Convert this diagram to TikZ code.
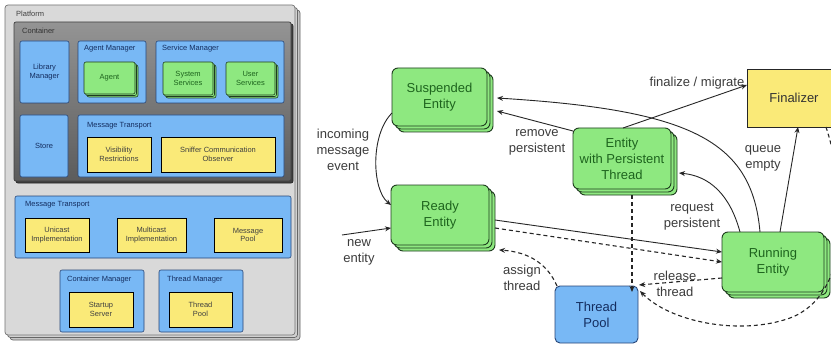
\documentclass[tikz,border=0pt]{standalone}
\usepackage{fontspec}
\setmainfont{Liberation Sans}
\usetikzlibrary{shadows,arrows.meta,calc}
\definecolor{gfill}{RGB}{142,232,128}
\definecolor{gborder}{RGB}{30,60,30}
\definecolor{gtext}{RGB}{30,100,30}
\definecolor{yfill}{RGB}{250,234,120}
\definecolor{bfill}{RGB}{120,184,245}
\definecolor{bborder}{RGB}{40,70,120}
\definecolor{btext}{RGB}{20,45,95}
\definecolor{lbl}{RGB}{60,60,60}
\tikzset{
  sfont/.style={font=\fontsize{7.5}{8.5}\selectfont},
  bfont/.style={font=\fontsize{13}{16}\selectfont},
  lblue/.style={draw=bborder, fill=bfill, rounded corners=2pt, line width=0.6pt, inner sep=0pt, outer sep=0pt, align=center, text=btext, sfont},
  lgreen/.style={draw=gborder, fill=gfill, rounded corners=2pt, line width=0.6pt, inner sep=0pt, outer sep=0pt, align=center, text=gtext, sfont,
     general shadow={shadow xshift=3pt,shadow yshift=-3pt,draw=gborder,fill=gfill},
     general shadow={shadow xshift=1.5pt,shadow yshift=-1.5pt,draw=gborder,fill=gfill}},
  lyellow/.style={draw=black, fill=yfill, line width=0.8pt, inner sep=0pt, outer sep=0pt, align=center, text=black!75, sfont},
  ltitle/.style={anchor=west, inner sep=0pt, sfont, text=btext},
  gbig/.style={draw=gborder, fill=gfill, rounded corners=6pt, line width=0.9pt, inner sep=0pt, outer sep=0pt, align=center, text=gtext, bfont,
     general shadow={shadow xshift=6pt,shadow yshift=-6pt,draw=gborder,fill=gfill},
     general shadow={shadow xshift=3pt,shadow yshift=-3pt,draw=gborder,fill=gfill}},
  lab/.style={align=center, text=lbl, bfont, inner sep=1pt},
  arr/.style={-{Stealth[length=6pt,width=5pt]}, line width=0.9pt, draw=black!85},
  darr/.style={-{Stealth[length=6pt,width=5pt]}, line width=1.1pt, draw=black!85, dash pattern=on 4pt off 3pt},
}
\begin{document}
\begin{tikzpicture}[x=1pt,y=-1pt]
\useasboundingbox (0,0) rectangle (831,345);
\fill[white] (0,0) rectangle (831,345);

% ---------------- left panel ----------------
\node[draw=black!55, fill=black!15, rounded corners=3pt, line width=0.7pt, minimum width=290pt, minimum height=330pt, inner sep=0pt, outer sep=0pt,
  general shadow={shadow xshift=5pt, shadow yshift=-5pt, draw=black!60, fill=black!22},
  general shadow={shadow xshift=2.5pt, shadow yshift=-2.5pt, draw=black!60, fill=black!18}] (plat) at (150,170) {};
\node[ltitle, text=black!75] (platl) at (16,14) {Platform};

\node[draw=black!75, top color=black!42, bottom color=black!64, rounded corners=2pt, line width=0.7pt, minimum width=277pt, minimum height=159pt, inner sep=0pt, outer sep=0pt,
  general shadow={shadow xshift=2pt, shadow yshift=-2pt, draw=black!85, fill=black!75}] (cont) at (152.5,101.5) {};
\node[ltitle, text=black!80] (contl) at (22,31) {Container};

\node[lblue, minimum width=49pt, minimum height=62pt] (libm) at (44.5,72) {Library\\Manager};
\node[lblue, minimum width=68pt, minimum height=62pt] (agm) at (112,72) {};
\node[ltitle] (agml) at (84,49) {Agent Manager};
\node[lgreen, minimum width=51pt, minimum height=32pt] (agent) at (109.5,78) {Agent};
\node[lblue, minimum width=128pt, minimum height=62pt] (svm) at (220,72) {};
\node[ltitle] (svml) at (162,49) {Service Manager};
\node[lgreen, minimum width=50pt, minimum height=33pt] (syss) at (188,78.5) {System\\Services};
\node[lgreen, minimum width=49pt, minimum height=33pt] (uss) at (250.5,78.5) {User\\Services};

\node[lblue, minimum width=48pt, minimum height=62pt] (store) at (44,146) {Store};
\node[lblue, minimum width=206pt, minimum height=62pt] (mt1) at (181,146) {};
\node[ltitle] (mt1l) at (87,126) {Message Transport};
\node[lyellow, minimum width=64pt, minimum height=35pt] (vis) at (119,154.5) {Visibility\\Restrictions};
\node[lyellow, minimum width=114pt, minimum height=35pt] (snif) at (218,154.5) {Sniffer Communication\\Observer};

\node[lblue, minimum width=276pt, minimum height=62pt] (mt2) at (153,227) {};
\node[ltitle] (mt2l) at (25,205) {Message Transport};
\node[lyellow, minimum width=64pt, minimum height=34pt] (uni) at (57,235) {Unicast\\Implementation};
\node[lyellow, minimum width=69pt, minimum height=34pt] (multi) at (151.5,235) {Multicast\\Implementation};
\node[lyellow, minimum width=68pt, minimum height=34pt] (mpool) at (248,235) {Message\\Pool};

\node[lblue, minimum width=84pt, minimum height=62pt] (cm) at (102,301) {};
\node[ltitle] (cml) at (67,280) {Container Manager};
\node[lyellow, minimum width=64pt, minimum height=35pt] (startup) at (101,309.5) {Startup\\Server};
\node[lblue, minimum width=84pt, minimum height=62pt] (tm) at (201,301) {};
\node[ltitle] (tml) at (167,280) {Thread Manager};
\node[lyellow, minimum width=63pt, minimum height=35pt] (ltp) at (200.5,309.5) {Thread\\Pool};

% ---------------- right panel ----------------
\node[gbig, minimum width=95pt, minimum height=58pt] (susp) at (439.5,97) {Suspended\\Entity};
\node[gbig, minimum width=98pt, minimum height=60pt] (ready) at (440,215) {Ready\\Entity};
\node[gbig, minimum width=98pt, minimum height=61pt] (ewpt) at (622,158.5) {Entity\\with Persistent\\Thread};
\node[gbig, minimum width=102pt, minimum height=60pt] (run) at (773,262) {Running\\Entity};
\node[draw=black!85, fill=yfill, line width=0.9pt, minimum width=94pt, minimum height=58pt, inner sep=0pt, outer sep=0pt, text=black!80, bfont] (fin) at (794,98) {Finalizer};
\node[draw=bborder, fill=bfill, rounded corners=5pt, line width=0.9pt, minimum width=83pt, minimum height=57pt, inner sep=0pt, outer sep=0pt, align=center, text=btext, bfont] (tp) at (596.5,314.5) {Thread\\Pool};

\coordinate (newin) at (342,235);

% edges
\draw[arr] ([yshift=-16pt]susp.west) .. controls (370,135) and (372,190) .. ([yshift=10pt]ready.west);
\draw[arr] (newin) -- ([yshift=-13pt]ready.west);
\draw[arr] ([xshift=6pt,yshift=-5pt]ready.east) -- ([yshift=10pt]run.west);
\draw[darr] ([xshift=6pt,yshift=-13pt]ready.east) -- (run.west);
\draw[darr] ([yshift=-16pt]run.west) -- ([xshift=1pt,yshift=1pt]tp.north east);
\draw[darr] ([xshift=10pt,yshift=-6pt]ewpt.south) -- ([xshift=10pt,yshift=-6pt]ewpt.south |- tp.north);
\draw[darr] ([xshift=-15pt]fin.south east) .. controls (848,195) and (852,295) .. (790,318) .. controls (740,336) and (670,322) .. ([xshift=2pt,yshift=-5pt]tp.north east);
\draw[arr] ([xshift=-13pt]run.north) .. controls (752,140) and (690,110) .. ([xshift=10pt,yshift=-1pt]susp.east);
\draw[arr] ([xshift=-33pt]run.north) .. controls (730,195) and (710,176) .. ([xshift=8pt,yshift=-14.5pt]ewpt.east);
\draw[arr] ([xshift=7pt]run.north) -- ([xshift=4pt]fin.south);
\draw[arr] ([xshift=1pt]ewpt.north) -- ([yshift=13pt]fin.west);
\draw[arr] ([yshift=-3pt]ewpt.north west) -- ([xshift=10pt,yshift=-14pt]susp.east);
\draw[darr] ([xshift=2pt]tp.north west) .. controls (548,265) and (530,252) .. ([xshift=10pt,yshift=-35pt]ready.east);

% labels
\node[lab] (l1) at (343,150) {incoming\\message\\event};
\node[lab] (l2) at (359,252) {new\\entity};
\node[lab] (l3) at (537,142) {remove\\persistent};
\node[lab] (l4) at (697,83) {finalize / migrate};
\node[lab] (l5) at (763,158) {queue\\empty};
\node[lab] (l6) at (692,217) {request\\persistent};
\node[lab] (l7) at (675,284) {release\\thread};
\node[lab] (l8) at (522,278) {assign\\thread};
\end{tikzpicture}
\end{document}
